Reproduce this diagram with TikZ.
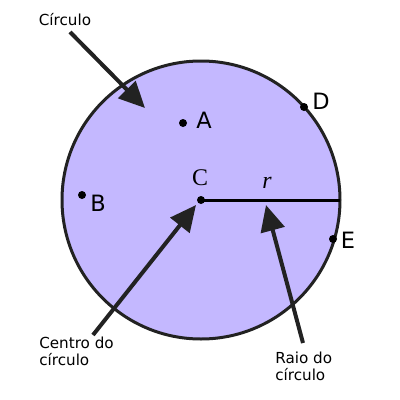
\documentclass[tikz,border=0pt]{standalone}
\usepackage{fontspec}
\newfontfamily\labelsans{DejaVu Sans}
\newfontfamily\labelserif{Liberation Serif}
\usetikzlibrary{arrows.meta,positioning}
\definecolor{discfill}{RGB}{196,184,255}
\definecolor{inkgray}{RGB}{34,34,34}

\begin{document}
\begin{tikzpicture}[
      x=0.25mm, y=-0.25mm,
      line join=round, >={Triangle[length=6.5mm,width=6mm]},
      pointlabel/.style={font=\labelsans\fontsize{16}{18}\selectfont, inner sep=0pt},
      seriflabel/.style={font=\labelserif\fontsize{17}{18}\selectfont, inner sep=0pt},
      callout/.style={font=\labelsans\fontsize{10.8}{12.2}\selectfont, align=left, inner sep=0pt},
      pointer/.style={->, draw=inkgray, line width=1mm},
      dot/.style={circle, fill=black, inner sep=0pt, minimum size=2mm}
    ]
    \useasboundingbox (0,0) rectangle (400,400);

    % ------------------ Circle ------------------
    \def\cx{201}
    \def\cy{200}
    \def\rad{139}
    \filldraw[fill=discfill, draw=inkgray, line width=0.75mm]
    (\cx,\cy) circle [radius=\rad];

    % ------------------ Points ------------------
    \node[dot] (ptC) at (\cx,\cy) {};
    \node[dot] (ptA) at (183,123) {};
    \node[dot] (ptB) at (82,195) {};
    \node[dot] (ptD) at (304,107) {};
    \node[dot] (ptE) at (333,239) {};

    \node[pointlabel] (labA) at (204,120) {A};
    \node[pointlabel] (labB) at (98,203) {B};
    \node[pointlabel] (labD) at (321,101) {D};
    \node[pointlabel] (labE) at (348,240) {E};
    \node[seriflabel] (labC) at (200,178) {C};

    % ------------------ Radius ------------------
    \coordinate (rimR) at (\cx+\rad,\cy);
    \draw[black, line width=0.75mm] (ptC.center) -- (rimR);
    \node[seriflabel, font=\labelserif\itshape\fontsize{17}{18}\selectfont]
    (labR) at (267,183) {r};

    % ------------------ Callouts ------------------
    \node[callout] (txtCirc) at (65,20) {Círculo};
    \node[callout, anchor=north west] (txtCentro) at (39,337)
    {Centro do\\círculo};
    \node[callout, anchor=north west] (txtRaio) at (275,352)
    {Raio do\\círculo};

    \coordinate (circTail) at (70,32);
    \coordinate (circTip) at (145,108);
    \coordinate (centroTail) at (93,335);
    \coordinate (centroTip) at (196,205);
    \coordinate (raioTail) at (303,343);
    \coordinate (raioTip) at (266,205);

    \draw[pointer] (circTail) -- (circTip);
    \draw[pointer] (centroTail) -- (centroTip);
    \draw[pointer] (raioTail) -- (raioTip);

  \end{tikzpicture}
\end{document}
